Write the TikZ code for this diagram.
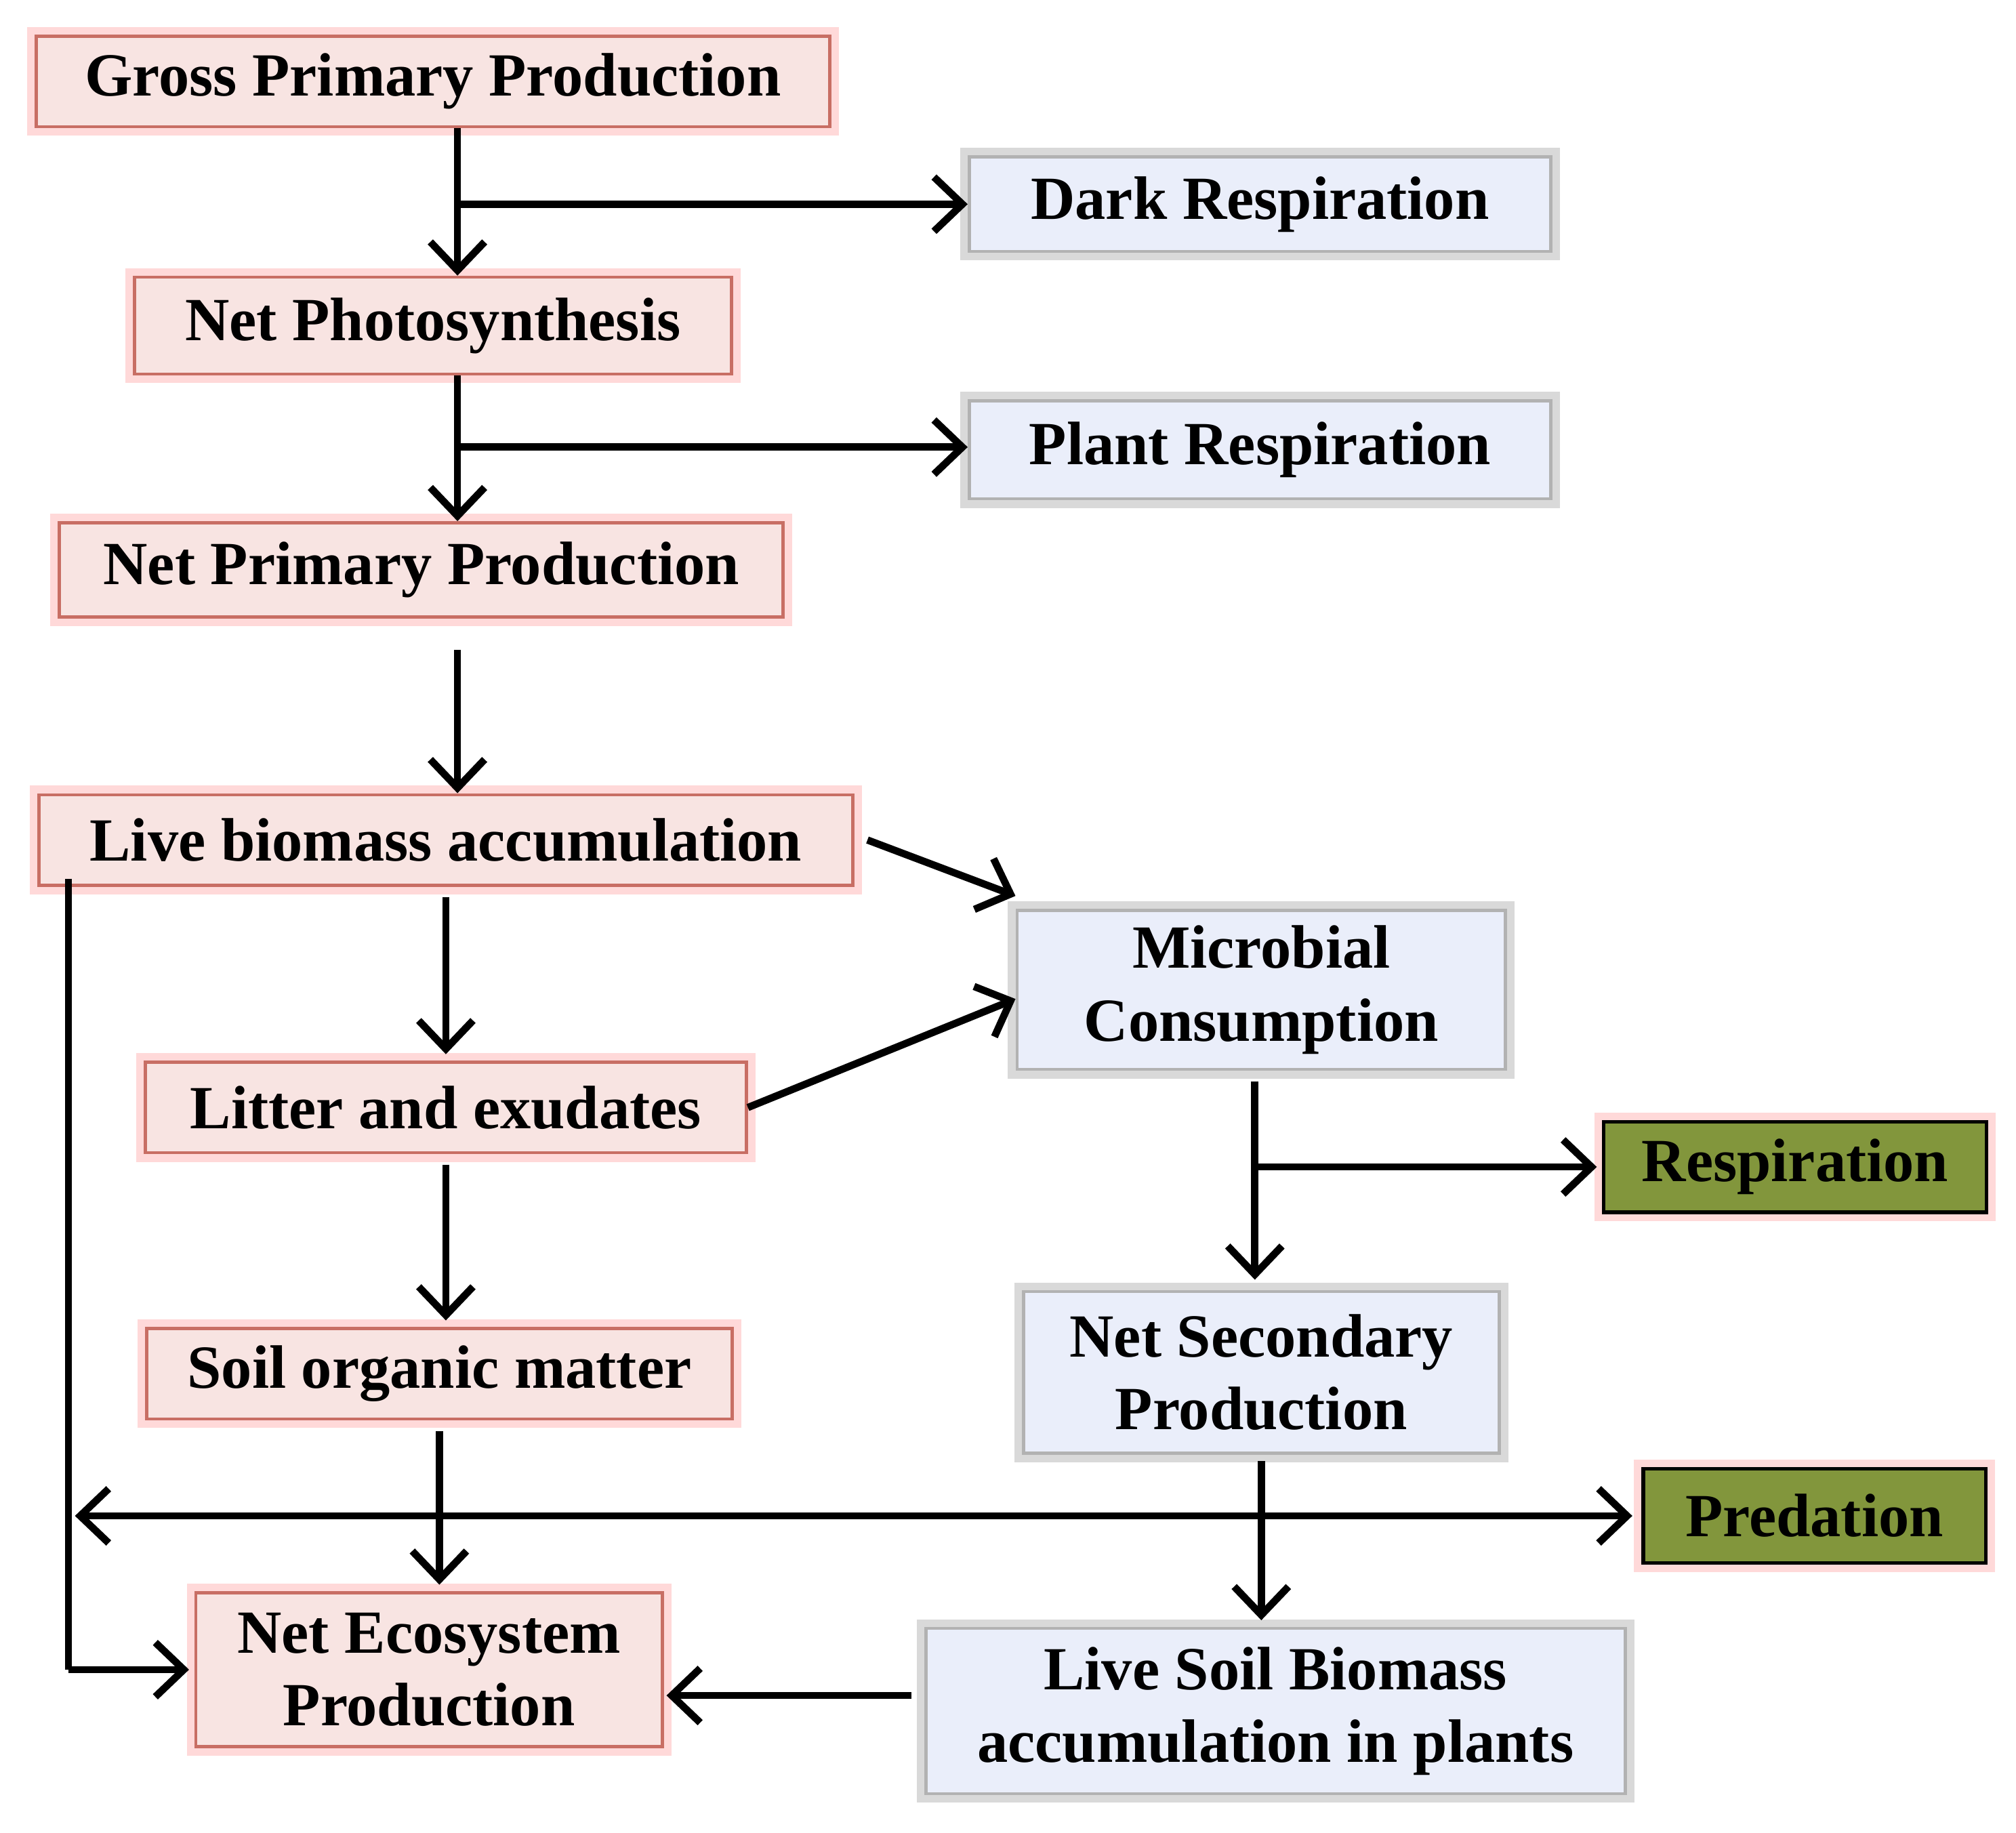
\documentclass[tikz,border=0pt]{standalone}
\usepackage{fontspec}
\setmainfont{Liberation Serif}
\usetikzlibrary{arrows.meta}
\definecolor{boxred}{RGB}{200,110,100}
\definecolor{boxpink}{RGB}{248,228,226}
\definecolor{boxblue}{RGB}{234,238,250}
\definecolor{boxgreen}{RGB}{130,150,60}
\tikzset{
  redbox/.style={draw=boxred, fill=boxpink, line width=0.7pt, preaction={draw=red!15, line width=4pt},
    font=\fontsize{13.5}{16}\selectfont\bfseries, align=center, inner sep=0pt},
  bluebox/.style={draw=gray!60, fill=boxblue, line width=0.7pt, preaction={draw=gray!30, line width=4pt},
    font=\fontsize{13.5}{16}\selectfont\bfseries, align=center, inner sep=0pt},
  greenbox/.style={draw=black, fill=boxgreen, line width=0.8pt, preaction={draw=red!15, line width=4pt},
    font=\fontsize{13.5}{16}\selectfont\bfseries, align=center, inner sep=0pt},
  flow/.style={line width=1.6pt, -{Straight Barb[length=2.2mm,width=4.2mm,line width=1.6pt]}},
  both/.style={line width=1.6pt, {Straight Barb[length=2.2mm,width=4.2mm,line width=1.6pt]}-{Straight Barb[length=2.2mm,width=4.2mm,line width=1.6pt]}}
}
\begin{document}
\begin{tikzpicture}
\useasboundingbox (0,0) rectangle (15.6,-14.18);
%
\node[redbox, minimum width=6.14cm, minimum height=0.7cm] (gpp) at (3.35,-0.63) {Gross Primary Production};
\node[bluebox, minimum width=4.5cm, minimum height=0.73cm] (dark) at (9.75,-1.58) {Dark Respiration};
\node[redbox, minimum width=4.62cm, minimum height=0.75cm] (nps) at (3.35,-2.52) {Net Photosynthesis};
\node[bluebox, minimum width=4.5cm, minimum height=0.76cm] (plant) at (9.75,-3.48) {Plant Respiration};
\node[redbox, minimum width=5.6cm, minimum height=0.73cm] (npp) at (3.26,-4.41) {Net Primary Production};
\node[redbox, minimum width=6.3cm, minimum height=0.7cm] (live) at (3.45,-6.5) {Live biomass accumulation};
\node[bluebox, minimum width=3.78cm, minimum height=1.23cm] (micro) at (9.76,-7.66) {Microbial\\Consumption};
\node[redbox, minimum width=4.65cm, minimum height=0.7cm] (litter) at (3.45,-8.57) {Litter and exudates};
\node[greenbox, minimum width=2.96cm, minimum height=0.7cm] (resp) at (13.89,-9.03) {Respiration};
\node[redbox, minimum width=4.53cm, minimum height=0.7cm] (soil) at (3.4,-10.63) {Soil organic matter};
\node[bluebox, minimum width=3.68cm, minimum height=1.25cm] (nsp) at (9.76,-10.62) {Net Secondary\\Production};
\node[greenbox, minimum width=2.65cm, minimum height=0.73cm] (pred) at (14.04,-11.73) {Predation};
\node[redbox, minimum width=3.61cm, minimum height=1.19cm] (nep) at (3.32,-12.92) {Net Ecosystem\\Production};
\node[bluebox, minimum width=5.41cm, minimum height=1.28cm] (lsb) at (9.87,-13.24) {Live Soil Biomass\\accumulation in plants};
%
\coordinate (b1) at (3.54,-1.58);
\coordinate (b2) at (3.54,-3.46);
\coordinate (b3) at (9.71,-9.03);
\coordinate (t1) at (3.54,-5.03);
\coordinate (pl) at (0.58,-11.73);
\coordinate (lb) at (0.53,-6.8);
\coordinate (lc) at (0.53,-12.92);
\coordinate (ls) at (7.05,-13.12);
%
\draw[flow] (gpp.south -| b1) -- (nps.north -| b1);
\draw[flow] (b1) -- (b1 -| dark.west);
\draw[flow] (nps.south -| b2) -- (npp.north -| b2);
\draw[flow] (b2) -- (b2 -| plant.west);
\draw[flow] (t1) -- (live.north -| t1);
\draw[flow] ([xshift=0.1cm]live.east) -- ([yshift=0.1cm]micro.north west);
\draw[flow] ([yshift=-0.08cm]live.south) -- ([yshift=0.05cm]litter.north);
\draw[flow] (litter.east) -- ([yshift=-0.07cm]micro.west);
\draw[flow] ([yshift=-0.08cm]litter.south) -- ([yshift=0.05cm]litter.south |- soil.north);
\draw[flow] ([yshift=-0.08cm]soil.south) -- ([yshift=0.05cm]soil.south |- nep.north);
\draw[flow] ([yshift=-0.08cm]micro.south -| b3) -- ([yshift=0.08cm]nsp.north -| b3);
\draw[flow] (b3) -- ([xshift=-0.04cm]b3 -| resp.west);
\draw[flow] ([yshift=-0.05cm]nsp.south) -- ([yshift=0.05cm]lsb.north -| nsp.south);
\draw[both] (pl) -- ([xshift=-0.07cm]pl -| pred.west);
\draw[line width=1.6pt] (lb) -- (lc);
\draw[flow] (lc) -- ([xshift=-0.04cm]nep.west |- lc);
\draw[flow] (ls) -- ([xshift=0.02cm]ls -| nep.east);
\end{tikzpicture}
\end{document}
